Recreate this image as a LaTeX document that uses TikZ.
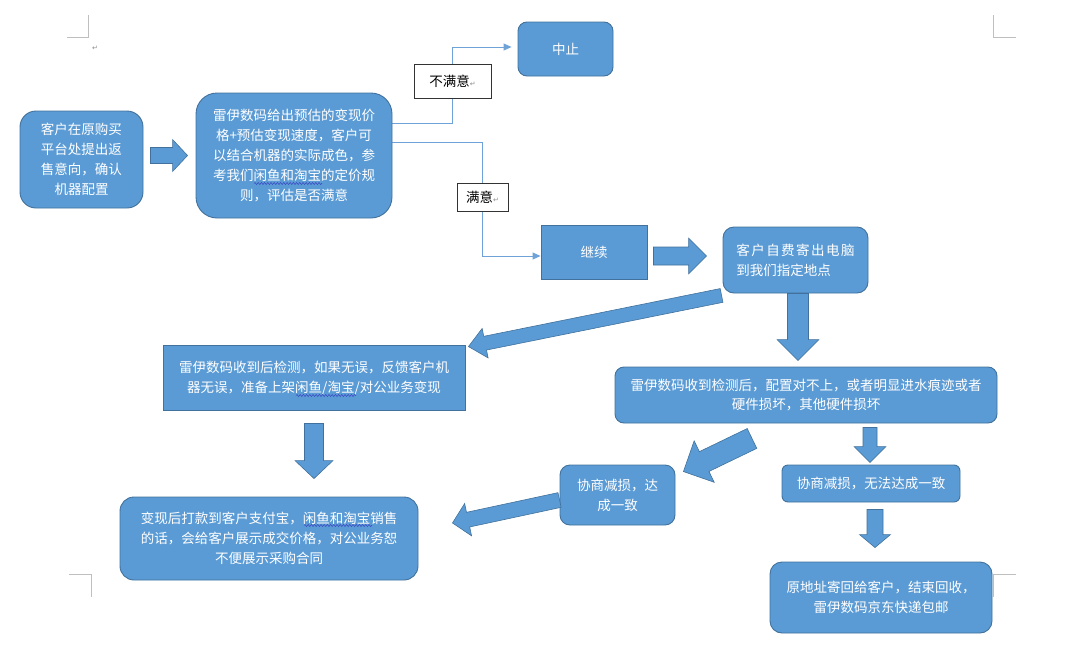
\documentclass[tikz,border=0pt]{standalone}
\usepackage{fontspec}
\setmainfont{Noto Sans CJK SC}
\newfontfamily\markfont{DejaVu Sans}
\usetikzlibrary{arrows.meta, positioning, calc, backgrounds, decorations.pathmorphing}

\definecolor{boxfill}{HTML}{5B9BD5}
\definecolor{boxline}{HTML}{41719C}
\definecolor{linkcol}{HTML}{6FA3D8}
\definecolor{markcol}{HTML}{BFBFBF}
\definecolor{wavecol}{HTML}{3D4FC4}

\newcommand{\retmark}{{\markfont\fontsize{7pt}{7pt}\selectfont\textcolor{black!45}{↵}}}

% fat block arrow: tail, tip, half shaft, half head, head length
\newcommand{\fatarrow}[5]{%
    \coordinate (fa-n) at ($(#2)!#5!(#1)$);
    \filldraw[fatarrow] ($(#1)!#3!90:(#2)$) -- ($(fa-n)!#3!90:(#2)$)
        -- ($(fa-n)!#4!90:(#2)$) -- (#2) -- ($(fa-n)!#4!-90:(#2)$)
        -- ($(fa-n)!#3!-90:(#2)$) -- ($(#1)!#3!-90:(#2)$) -- cycle;
}

\tikzset{
    procbox/.style={draw=boxline, line width=0.9pt, fill=boxfill, text=white,
        inner sep=0pt, align=center, font=\fontsize{13.5pt}{20pt}\selectfont},
    flatbox/.style={procbox},
    tagbox/.style={draw=black!80, line width=0.8pt, fill=white, text=black,
        inner sep=0pt, font=\fontsize{13.5pt}{20pt}\selectfont},
    flowlink/.style={draw=linkcol, line width=0.9pt,
        -{Triangle[length=8pt, width=7pt]}},
    fatarrow/.style={fill=boxfill, draw=boxline, line width=0.6pt, line join=miter},
    pagemark/.style={draw=markcol, line width=0.8pt},
    spellwave/.style={draw=wavecol, line width=0.6pt, decorate,
        decoration={snake, amplitude=1pt, segment length=3.2pt}},
}

\begin{document}
\begin{tikzpicture}[x=1pt, y=-1pt]
    \useasboundingbox (0,0) rectangle (1080,664);

    % page corner marks
    \draw[pagemark] (67,37) -- (88,37) -- (88,15);
    \draw[pagemark] (993,15) -- (993,37) -- (1016,37);
    \draw[pagemark] (69,574) -- (91,574) -- (91,597);
    \draw[pagemark] (1016,574) -- (993,574) -- (993,597);
    \node[inner sep=0pt] (pmark) at (95,48) {\retmark};

    % first row
    \node[procbox, minimum width=123pt, minimum height=97pt, rounded corners=16pt]
        (A) at (81.5,159.5) {客户在原购买\\平台处提出返\\售意向，确认\\机器配置};
    \node[procbox, minimum width=196pt, minimum height=125pt, rounded corners=21pt]
        (B) at (294,155.5) {雷伊数码给出预估的变现价\\格+预估变现速度，客户可\\以结合机器的实际成色，参\\考我们闲鱼和淘宝的定价规\\则，评估是否满意};
    \node[procbox, minimum width=95pt, minimum height=54pt, rounded corners=9pt]
        (stop) at (565.5,49) {中止};
    \node[flatbox, minimum width=106pt, minimum height=54pt]
        (cont) at (594,252) {继续};
    \node[procbox, minimum width=145pt, minimum height=66pt, rounded corners=11pt, align=left]
        (C) at (795.5,260) {\addfontfeatures{LetterSpace=11}客户自费寄出电脑\\到我们指定地点};

    % decision labels
    \node[tagbox, minimum width=77pt, minimum height=34pt] (nok) at (452.5,81) {不满意\retmark};
    \node[tagbox, minimum width=51pt, minimum height=28pt] (ok) at (482.5,197) {满意\retmark};

    \begin{scope}[on background layer]
        \draw[flowlink] ([yshift=32.5pt]B.east) -| (nok) |- ([xshift=-6pt, yshift=2pt]stop.west);
        \draw[flowlink] ([yshift=13.5pt]B.east) -| (ok) |- ([yshift=-4pt]cont.west);
    \end{scope}

    % checking
    \node[flatbox, minimum width=302pt, minimum height=65pt]
        (D) at (314,377.5) {雷伊数码收到后检测，如果无误，反馈客户机\\器无误，准备上架闲鱼/淘宝/对公业务变现};
    \node[procbox, minimum width=382pt, minimum height=56pt, rounded corners=9pt]
        (E) at (806,395) {雷伊数码收到检测后，配置对不上，或者明显进水痕迹或者\\硬件损坏，其他硬件损坏};

    % outcomes
    \node[procbox, minimum width=298pt, minimum height=83pt, rounded corners=14pt]
        (F) at (269,538.5) {变现后打款到客户支付宝，闲鱼和淘宝销售\\的话，会给客户展示成交价格，对公业务恕\\不便展示采购合同};
    \node[procbox, minimum width=115pt, minimum height=60pt, rounded corners=10pt]
        (G) at (617.5,495) {协商减损，达\\成一致};
    \node[procbox, minimum width=178pt, minimum height=37pt, rounded corners=6pt]
        (H) at (871,483.5) {协商减损，无法达成一致};
    \node[procbox, minimum width=222pt, minimum height=71pt, rounded corners=12pt]
        (I) at (881,597.5) {原地址寄回给客户，结束回收，\\雷伊数码京东快递包邮};

    % spell-check waves
    \draw[spellwave] ($(B.center)+(-40,28)$) -- ++(68,0);
    \draw[spellwave] ($(D.center)+(-18,18)$) -- ++(60,0);
    \draw[spellwave] ($(F.center)+(35,-13)$) -- ++(68,0);

    % block arrows
    \coordinate (ab-t) at ($(A.east)+(7,-4)$);
    \coordinate (ab-h) at ($(B.west)+(-8,0)$);
    \fatarrow{ab-t}{ab-h}{8pt}{16pt}{15pt}

    \coordinate (cc-t) at ($(cont.east)+(6,4)$);
    \coordinate (cc-h) at ($(C.west)+(-16,-4)$);
    \fatarrow{cc-t}{cc-h}{9pt}{18pt}{18pt}

    \coordinate (cd-t) at ($(C.south west)+(-1,2)$);
    \coordinate (cd-h) at ($(D.north east)+(3,2)$);
    \fatarrow{cd-t}{cd-h}{7pt}{15pt}{17pt}

    \coordinate (ce-t) at ($(C.south)+(2.5,0)$);
    \coordinate (ce-h) at ($(ce-t |- E.north)+(0,-6)$);
    \fatarrow{ce-t}{ce-h}{10.5pt}{21pt}{21pt}

    \coordinate (df-t) at ($(D.south)+(0,13)$);
    \coordinate (df-h) at ($(df-t |- F.north)+(0,-18)$);
    \fatarrow{df-t}{df-h}{9.5pt}{19pt}{18pt}

    \coordinate (eg-t) at ($(E.south)+(-54,15)$);
    \coordinate (eg-h) at ($(G.north east)+(8,7)$);
    \fatarrow{eg-t}{eg-h}{11pt}{23pt}{23pt}

    \coordinate (eh-t) at ($(E.south)+(64,4)$);
    \coordinate (eh-h) at ($(eh-t |- H.north)+(0,-2)$);
    \fatarrow{eh-t}{eh-h}{7pt}{16pt}{16pt}

    \coordinate (gf-t) at ($(G.west)+(0,5)$);
    \coordinate (gf-h) at ($(F.east)+(34,-15.5)$);
    \fatarrow{gf-t}{gf-h}{7.5pt}{16.5pt}{16pt}

    \coordinate (hi-t) at ($(H.south)+(4,7)$);
    \coordinate (hi-h) at ($(hi-t |- I.north)+(0,-14)$);
    \fatarrow{hi-t}{hi-h}{8pt}{15.5pt}{13pt}
\end{tikzpicture}
\end{document}
